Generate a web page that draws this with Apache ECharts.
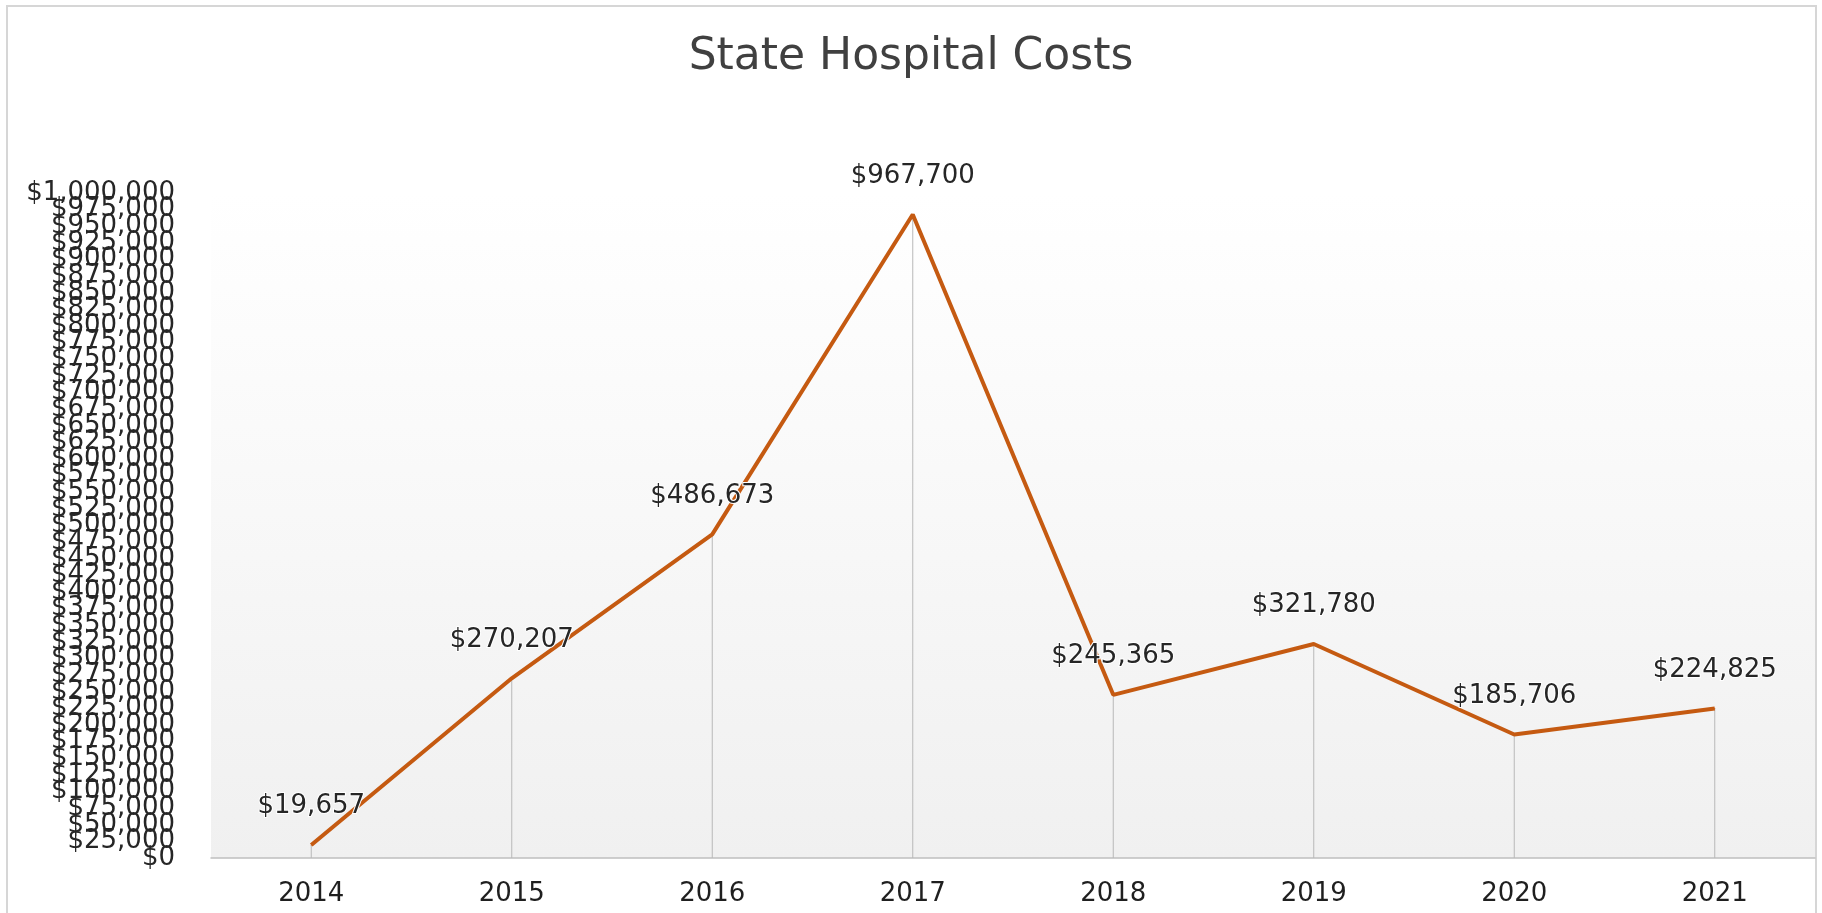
<!DOCTYPE html>
<html>
<head>
<meta charset="utf-8">
<title>State Hospital Costs</title>
<script src="https://cdn.jsdelivr.net/npm/echarts@6/dist/echarts.min.js"></script>
<style>
    html, body { margin: 0; padding: 0; background: #fff; }
    #div1 { width: 1822px; height: 913px; }
</style>
</head>
<body>
<div id="div1"></div>
<script>
    // data
    var years = ['2014', '2015', '2016', '2017', '2018', '2019', '2020', '2021'];
    var costs = [19657, 270207, 486673, 967700, 245365, 321780, 185706, 224825];
    var yMin = 0;
    var yMax = 1000000;
    var yStep = 25000;

    var oDiv = document.getElementById('div1');
    var myChart = echarts.init(oDiv);

    function money(v) {
        return '$' + Number(v).toLocaleString('en-US');
    }

    var font = '"DejaVu Sans", Verdana, sans-serif';

    var labelStyle = {
        fontSize: 26,
        color: '#262626',
        margin: 36
    };

    // the two y axes share one scale: the first draws the inner labels,
    // the second only the end labels ($0 and $1,000,000), so none get dropped
    function yAxisWith(ends) {
        return {
            type: 'value',
            position: 'left',
            min: yMin,
            max: yMax,
            interval: yStep,
            axisLine: { show: false },
            axisTick: { show: false },
            splitLine: { show: false },
            axisLabel: {
                fontSize: labelStyle.fontSize,
                color: labelStyle.color,
                margin: labelStyle.margin,
                showMinLabel: ends,
                showMaxLabel: ends,
                hideOverlap: false,
                formatter: function (v) {
                    var isEnd = (v === yMin || v === yMax);
                    if (ends) {
                        return isEnd ? money(v) : '';
                    }
                    return isEnd ? '' : money(v);
                }
            }
        };
    }

    var option = {
        animation: false,
        backgroundColor: '#fff',
        textStyle: { fontFamily: font },
        title: {
            text: 'State Hospital Costs',
            left: 'center',
            top: 31,
            textStyle: {
                fontFamily: font,
                fontSize: 44,
                fontWeight: 'normal',
                color: '#404040'
            }
        },
        // outer chart border
        graphic: [{
            type: 'rect',
            shape: { x: 7, y: 6, width: 1809, height: 930 },
            style: { fill: null, stroke: '#d6d6d6', lineWidth: 2 },
            silent: true
        }],
        grid: {
            left: 211,
            right: 7,
            top: 193,
            bottom: 55,
            show: true,
            borderWidth: 0,
            backgroundColor: {
                type: 'linear', x: 0, y: 0, x2: 0, y2: 1,
                colorStops: [
                    { offset: 0, color: '#ffffff' },
                    { offset: 0.35, color: '#fafafa' },
                    { offset: 1, color: '#f0f0f0' }
                ]
            }
        },
        xAxis: {
            type: 'category',
            data: years,
            boundaryGap: true,
            axisLine: { lineStyle: { color: '#bfbfbf', width: 1.5 } },
            axisTick: { show: false },
            axisLabel: {
                fontSize: 26,
                color: '#1f1f1f',
                margin: 23
            }
        },
        yAxis: [yAxisWith(false), yAxisWith(true)],
        series: [
            {
                // drop lines from each point to the axis
                name: 'drop',
                type: 'bar',
                data: costs,
                barWidth: 1,
                silent: true,
                itemStyle: { color: '#b8b8b8' },
                z: 1
            },
            {
                name: 'State Hospital Costs',
                type: 'line',
                data: costs,
                symbol: 'circle',
                symbolSize: 1,
                showSymbol: true,
                itemStyle: { color: '#c55a11' },
                lineStyle: { color: '#c55a11', width: 4 },
                z: 3,
                label: {
                    show: true,
                    position: 'top',
                    distance: 25,
                    fontSize: 26,
                    color: '#262626',
                    textBorderColor: '#fff',
                    textBorderWidth: 2,
                    formatter: function (p) {
                        return money(p.value);
                    }
                }
            }
        ]
    };

    myChart.setOption(option);
</script>
</body>
</html>
